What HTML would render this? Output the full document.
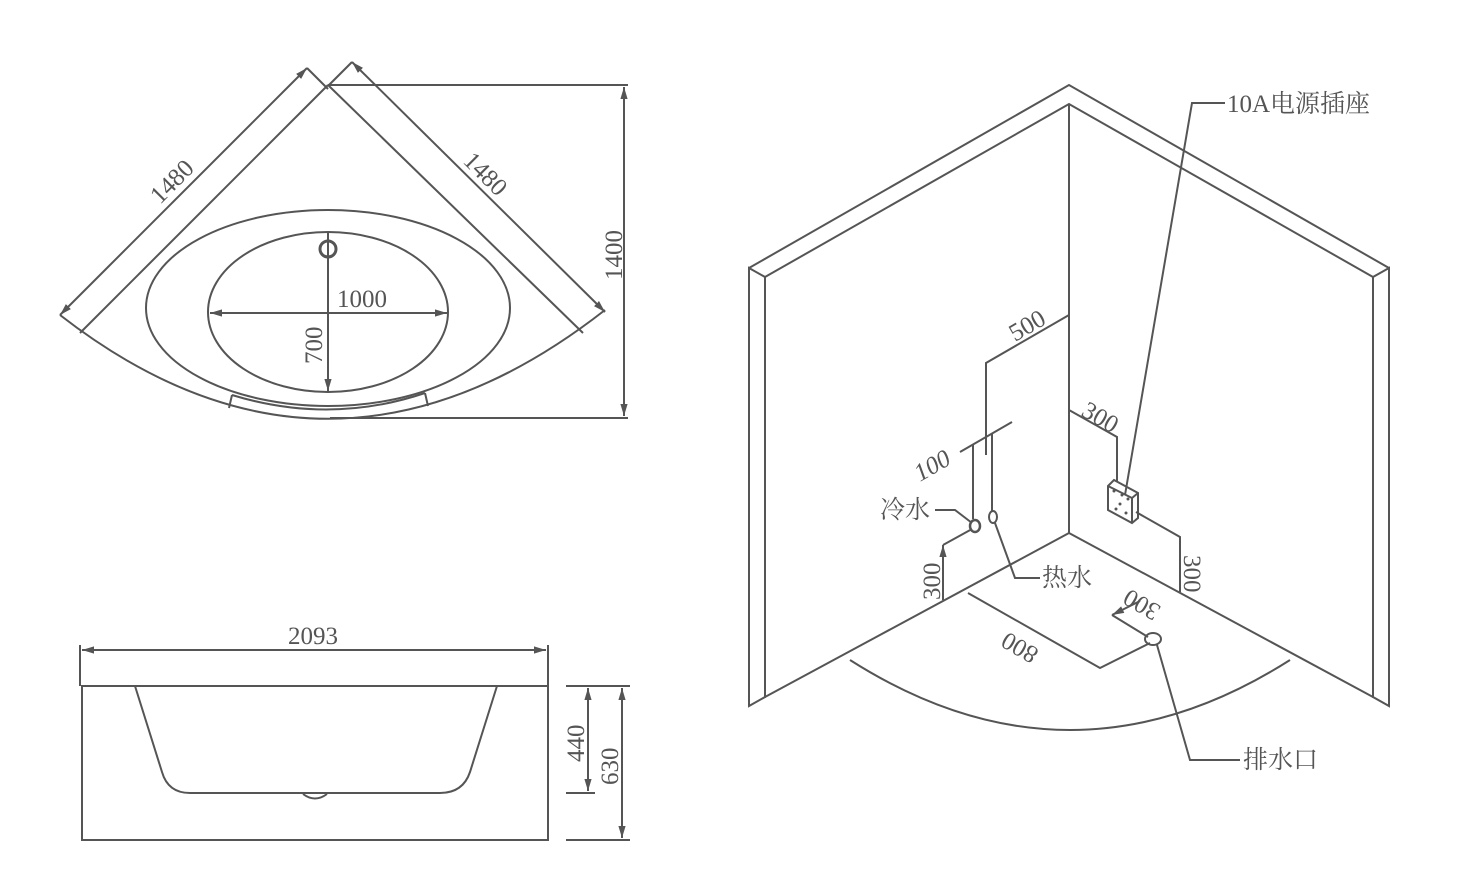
<!DOCTYPE html>
<html><head><meta charset="utf-8"><style>
html,body{margin:0;padding:0;background:#fff}
svg{display:block}
text{font-family:"Liberation Serif","Noto Serif CJK SC",serif;fill:#555;font-size:25px}
</style></head><body>
<svg width="1475" height="880" viewBox="0 0 1475 880" xmlns="http://www.w3.org/2000/svg">
<defs><marker id="a" viewBox="0 0 10 10" refX="10" refY="5" markerWidth="6" markerHeight="6" orient="auto-start-reverse"><path d="M0,2 L10,5 L0,8z" fill="#555"/></marker></defs>
<g fill="none" stroke="#555" stroke-width="2">
<line x1="60" y1="315" x2="307" y2="68" marker-start="url(#a)" marker-end="url(#a)"/>
<line x1="352" y1="62" x2="605" y2="312" marker-start="url(#a)" marker-end="url(#a)"/>
<line x1="80" y1="333" x2="328" y2="85"/>
<line x1="328" y1="85" x2="583" y2="333"/>
<line x1="307" y1="68" x2="328" y2="89"/>
<line x1="352" y1="62" x2="328" y2="86"/>
<path d="M60,315 Q330,525 605,310"/>
<path d="M232,395 Q330,425 425,393"/>
<line x1="232" y1="395" x2="229" y2="408"/><line x1="425" y1="393" x2="428" y2="406"/>
<ellipse cx="328" cy="308" rx="182" ry="98"/>
<ellipse cx="328" cy="312" rx="120" ry="80"/>
<line x1="328" y1="233" x2="328" y2="391" marker-end="url(#a)"/>
<line x1="210" y1="313" x2="447" y2="313" marker-start="url(#a)" marker-end="url(#a)"/>
<circle cx="328" cy="249" r="8" stroke-width="3"/>
<line x1="328" y1="85" x2="628" y2="85"/><line x1="330" y1="418" x2="628" y2="418"/>
<line x1="624" y1="87" x2="624" y2="416" marker-start="url(#a)" marker-end="url(#a)"/>
<rect x="82" y="686" width="466" height="154"/>
<path d="M135,686 L162,772 Q168,793 190,793 L440,793 Q463,793 470,772 L497,686"/>
<path d="M303,794 Q315,803 327,794"/>
<line x1="80" y1="645" x2="80" y2="686"/><line x1="548" y1="645" x2="548" y2="686"/>
<line x1="82" y1="650" x2="546" y2="650" marker-start="url(#a)" marker-end="url(#a)"/>
<line x1="566" y1="686" x2="630" y2="686"/><line x1="566" y1="793" x2="595" y2="793"/><line x1="566" y1="840" x2="630" y2="840"/>
<line x1="588" y1="688" x2="588" y2="791" marker-start="url(#a)" marker-end="url(#a)"/>
<line x1="622" y1="688" x2="622" y2="838" marker-start="url(#a)" marker-end="url(#a)"/>
<path d="M749,268 L1069,85 L1389,268"/>
<path d="M765,277 L1069,104 L1373,277"/>
<path d="M749,268 L765,277 L765,697 L749,706 Z"/>
<path d="M1389,268 L1373,277 L1373,697 L1389,706 Z"/>
<line x1="1069" y1="104" x2="1069" y2="533"/>
<line x1="1069" y1="533" x2="765" y2="697"/>
<line x1="1069" y1="533" x2="1373" y2="697"/>
<path d="M850,660 Q1070,800 1290,660"/>
<path d="M1069,315 L986,363 L986,455"/>
<line x1="960" y1="452" x2="1012" y2="422"/>
<line x1="973" y1="445" x2="973" y2="519"/><line x1="992" y1="434" x2="992" y2="512"/>
<ellipse cx="975" cy="526" rx="5" ry="6" stroke-width="2.5"/>
<ellipse cx="993" cy="517" rx="4" ry="6"/>
<path d="M935,510 L955,510 L972,523"/>
<path d="M943,600 L943,545" marker-end="url(#a)"/><line x1="943" y1="545" x2="972" y2="529"/>
<path d="M995,523 L1015,578 L1040,578"/>
<path d="M1069,410 L1117,437 L1117,482"/>
<path d="M1108,486 L1114,480 L1138,493 L1138,518 L1132,523 L1108,510 Z M1132,498 L1138,493 M1132,498 L1132,523 M1108,486 L1132,498"/>
<path d="M1136,512 L1180,537 L1180,592"/>
<path d="M968,593 L1100,668 L1150,643"/>
<path d="M1112,615 L1148,637"/>
<line x1="1140" y1="601" x2="1112" y2="615" marker-end="url(#a)"/>
<ellipse cx="1153" cy="639" rx="8" ry="6"/>
<path d="M1157,645 L1190,760 L1240,760"/>
<path d="M1125,495 L1192,103 L1225,103"/>
</g>
<g fill="#555" stroke="none">
<circle cx="1114" cy="491" r="1.5"/><circle cx="1122" cy="495" r="1.5"/><circle cx="1128" cy="499" r="1.5"/><circle cx="1120" cy="504" r="1.5"/><circle cx="1116" cy="509" r="1.5"/><circle cx="1126" cy="513" r="1.5"/>
</g>
<text x="337" y="307">1000</text>
<text transform="translate(322,364) rotate(-90)">700</text>
<text transform="translate(160,205) rotate(-45)">1480</text>
<text transform="translate(462,162) rotate(45)">1480</text>
<text transform="translate(622,280) rotate(-90)">1400</text>
<text x="288" y="644">2093</text>
<text transform="translate(584,762) rotate(-90)">440</text>
<text transform="translate(618,785) rotate(-90)">630</text>
<text transform="translate(1015,342) rotate(-30)" font-size="20">500</text>
<text transform="translate(920,482) rotate(-30)" font-size="20" font-style="italic">100</text>
<text x="880" y="518">冷水</text>
<text transform="translate(940,600) rotate(-90)" font-size="20">300</text>
<text x="1042" y="586">热水</text>
<text transform="translate(1080,415) rotate(30)" font-size="20">300</text>
<text transform="translate(1184,555) rotate(90)" font-size="20">300</text>
<text transform="translate(1040,650) rotate(210)" font-size="20">800</text>
<text transform="translate(1162,607) rotate(210)" font-size="20">300</text>
<text x="1243" y="768">排水口</text>
<text x="1227" y="112">10A电源插座</text>
</svg>
</body></html>
